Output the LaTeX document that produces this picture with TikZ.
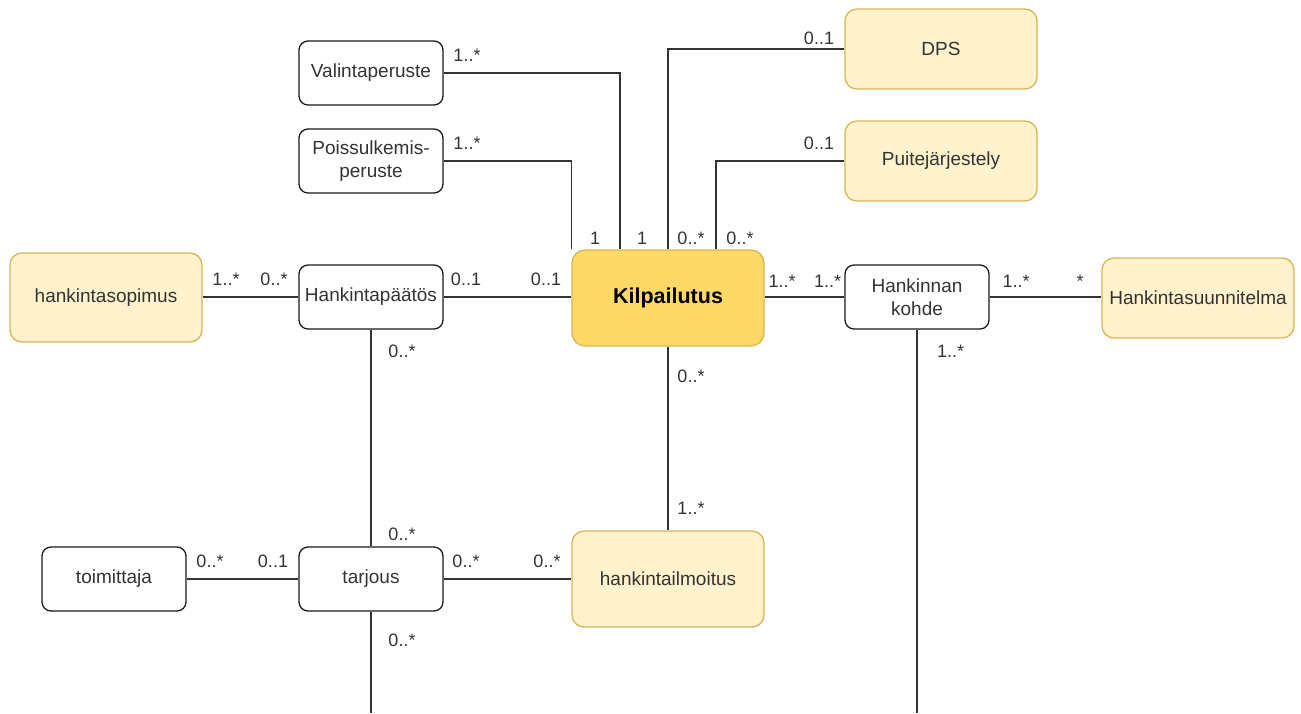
\documentclass[tikz,border=0pt]{standalone}
\usepackage{fontspec}
\setmainfont{Liberation Sans}
\begin{document}
\definecolor{ink}{HTML}{333333}
\definecolor{boxline}{HTML}{1A1A1A}
\definecolor{paleyellow}{HTML}{FFF2CC}
\definecolor{gold}{HTML}{FFD966}
\definecolor{goldline}{HTML}{D6B656}
\begin{tikzpicture}[x=1pt,y=-1pt,
  cls/.style={draw=boxline,line width=1.3pt,fill=white,rounded corners=9pt,
    minimum width=144pt,minimum height=64pt,inner sep=0pt,align=center,
    text=ink,font=\fontsize{19}{22.5}\selectfont},
  ext/.style={draw=goldline,line width=1.3pt,fill=paleyellow,rounded corners=12pt,
    minimum width=192pt,minimum height=80pt,inner sep=0pt,align=center,
    text=ink,font=\fontsize{19}{22.5}\selectfont},
  core/.style={draw=goldline,line width=1.3pt,fill=gold,rounded corners=13pt,
    minimum width=192pt,minimum height=96pt,inner sep=0pt,
    text=black,font=\fontsize{21.5}{24}\selectfont\bfseries},
  link/.style={draw=ink,line width=1.3pt},
  mult/.style={text=ink,font=\fontsize{18}{20}\selectfont,inner sep=0pt,anchor=base}
]
\useasboundingbox (0,0) rectangle (1301,713);

% classes
\node[cls] (val) at (371,73) {Valintaperuste};
\node[cls] (poi) at (371,161) {Poissulkemis-\\peruste};
\node[cls] (pat) at (371,297) {Hankintapäätös};
\node[cls] (toi) at (114,579) {toimittaja};
\node[cls] (tar) at (371,579) {tarjous};
\node[cls] (koh) at (917,297) {Hankinnan\\kohde};
\node[ext,minimum height=89pt] (sop) at (106,297.5) {hankintasopimus};
\node[ext] (dps) at (941,49) {DPS};
\node[ext] (pui) at (941,161) {Puitejärjestely};
\node[ext] (suu) at (1198,298) {Hankintasuunnitelma};
\node[ext,minimum height=96pt] (ilm) at (668,579) {hankintailmoitus};
\node[core] (kil) at (668,298) {Kilpailutus};

% loose ends running off the lower edge
\coordinate (kohEnd) at (917,713);
\coordinate (tarEnd) at (371,713);

% associations
\draw[link] (val.east) -| ([xshift=-48pt]kil.north);
\draw[link] (poi.east) -| (kil.north west);
\draw[link] (kil.north) |- (dps.west);
\draw[link] ([xshift=48pt]kil.north) |- (pui.west);
\draw[link] (pat.east) -- (pat.east -| kil.west);
\draw[link] (sop.east |- pat.east) -- (pat.west);
\draw[link] (kil.east |- koh.west) -- (koh.west);
\draw[link] (koh.east) -- (koh.east -| suu.west);
\draw[link] (koh.south) -- (kohEnd);
\draw[link] (pat.south) -- (tar.north);
\draw[link] (tar.south) -- (tarEnd);
\draw[link] (toi.east) -- (tar.west);
\draw[link] (tar.east) -- (ilm.west);
\draw[link] (kil.south) -- (ilm.north);

% multiplicities
\node[mult] (m1) at (467,61.5) {1..*};
\node[mult] (m2) at (467,149.5) {1..*};
\node[mult] (m3) at (595,244.5) {1};
\node[mult] (m4) at (642,244.5) {1};
\node[mult] (m5) at (691,244.5) {0..*};
\node[mult] (m6) at (740,244.5) {0..*};
\node[mult] (m7) at (819,44.5) {0..1};
\node[mult] (m8) at (819,149.5) {0..1};
\node[mult] (m9) at (466,285.5) {0..1};
\node[mult] (m10) at (546,285.5) {0..1};
\node[mult] (m11) at (226,285.5) {1..*};
\node[mult] (m12) at (274,285.5) {0..*};
\node[mult] (m13) at (782,287.5) {1..*};
\node[mult] (m14) at (827.5,287.5) {1..*};
\node[mult] (m15) at (1016,287.5) {1..*};
\node[mult] (m16) at (1080,287.5) {*};
\node[mult] (m17) at (950.5,357.5) {1..*};
\node[mult] (m18) at (402,357.5) {0..*};
\node[mult] (m19) at (402,540.5) {0..*};
\node[mult] (m20) at (210,567) {0..*};
\node[mult] (m21) at (273,567) {0..1};
\node[mult] (m22) at (466,567) {0..*};
\node[mult] (m23) at (547,567) {0..*};
\node[mult] (m24) at (402,646.5) {0..*};
\node[mult] (m25) at (691,382.5) {0..*};
\node[mult] (m26) at (691,514.5) {1..*};
\end{tikzpicture}
\end{document}
